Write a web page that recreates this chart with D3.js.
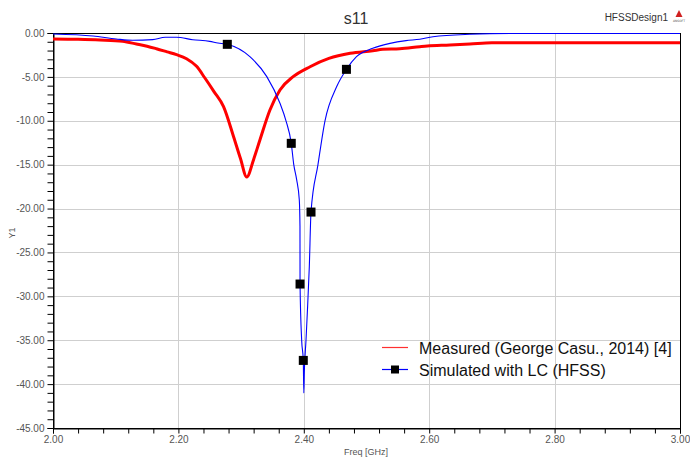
<!DOCTYPE html>
<html>
<head>
<meta charset="utf-8">
<script src="https://cdn.jsdelivr.net/npm/d3@7"></script>
<style>
  html, body { margin: 0; padding: 0; background: #fff; }
  svg { display: block; }
  .narrow { font-family: "Liberation Sans Narrow", "Liberation Sans", Arial, sans-serif; }
</style>
</head>
<body>
<svg id="chart" width="690" height="461"></svg>
<script>
// S11 return loss: measured vs. simulated (HFSS)
const measuredFreq = [2.000, 2.040, 2.075, 2.111, 2.133, 2.150, 2.165, 2.182, 2.197, 2.213, 2.229, 2.242, 2.257, 2.272, 2.288, 2.299, 2.309,
  2.320, 2.330, 2.346, 2.362, 2.383, 2.410, 2.440, 2.474, 2.510, 2.526, 2.553, 2.585, 2.597, 2.633, 2.665, 2.700, 3.000];
const measuredDb = [-0.68, -0.72, -0.80, -0.95, -1.25, -1.50, -1.79, -2.15, -2.47, -2.93, -3.80, -5.10, -6.70, -8.39, -11.81, -14.30, -16.40,
  -14.40, -12.19, -8.77, -6.49, -4.98, -3.84, -2.90, -2.31, -2.02, -1.86, -1.80, -1.56, -1.48, -1.37, -1.25, -1.10, -1.10];

const simFreq = [2.000, 2.064, 2.101, 2.127, 2.159, 2.179, 2.197, 2.223, 2.250, 2.263, 2.278, 2.314, 2.341, 2.362, 2.3716, 2.380, 2.384, 2.3886, 2.3928, 2.3939, 2.3940, 2.3966, 2.3992, 2.4000,
  2.4008, 2.4035, 2.4056, 2.4088, 2.4115, 2.4226, 2.4338, 2.4525, 2.468, 2.484, 2.510, 2.5375, 2.563, 2.585, 2.606, 2.665, 2.742, 3.000];
const simDb = [-0.11, -0.34, -0.68, -0.83, -0.76, -0.49, -0.49, -0.76, -0.95, -1.14, -1.29, -2.70, -4.97, -8.00, -10.00, -12.57, -15.00, -16.70, -19.00, -22.00, -28.60, -35.00, -37.30, -41.00,
  -38.70, -35.00, -31.90, -26.60, -20.40, -15.00, -10.00, -6.10, -4.14, -2.70, -1.75, -1.18, -0.87, -0.72, -0.42, -0.15, -0.04, -0.05];

// Marker symbols placed along the simulated trace
const markerFreq = [2.278, 2.380, 2.394, 2.3992, 2.4115, 2.468];
const markerDb = [-1.29, -12.57, -28.6, -37.3, -20.4, -4.14];

const xMajorTicks = [2.0, 2.2, 2.4, 2.6, 2.8, 3.0];
const yMajorTicks = [0, -5, -10, -15, -20, -25, -30, -35, -40, -45];
const seriesNames = ["Measured (George Casu., 2014) [4]", "Simulated with LC (HFSS)"];

const svg = d3.select("#chart");
const pLeft = 53, pRight = 680, pTop = 33, pBottom = 428;

const x = d3.scaleLinear().domain([2, 3]).range([pLeft, pRight]);
const y = d3.scaleLinear().domain([0, -45]).range([pTop, pBottom]);

// grid
const grid = svg.append("g").attr("stroke", "#cfcfcf").attr("stroke-width", 1);
xMajorTicks.slice(1, -1).forEach(v => {
  grid.append("line").attr("x1", Math.round(x(v)) + 0.5).attr("x2", Math.round(x(v)) + 0.5)
    .attr("y1", pTop).attr("y2", pBottom);
});
yMajorTicks.slice(1, -1).forEach(v => {
  grid.append("line").attr("x1", pLeft).attr("x2", pRight)
    .attr("y1", Math.round(y(v)) + 0.5).attr("y2", Math.round(y(v)) + 0.5);
});

// frame
svg.append("rect").attr("x", pLeft + 0.5).attr("y", pTop + 0.5)
  .attr("width", pRight - pLeft).attr("height", pBottom - pTop)
  .attr("fill", "none").attr("stroke", "#000").attr("stroke-width", 1);

// axes
const xAxis = d3.axisBottom(x).tickValues(d3.range(0, 26).map(i => 2 + i * 0.04))
  .tickSize(5).tickFormat(d => xMajorTicks.some(t => Math.abs(t - d) < 1e-6) ? d.toFixed(2) : "");
const gx = svg.append("g").attr("transform", `translate(0,${pBottom + 0.5})`).call(xAxis);
gx.select(".domain").attr("stroke", "#000");
gx.selectAll(".tick line").attr("stroke", "#000");
gx.selectAll(".tick text").attr("class", "narrow").attr("font-size", 10).attr("fill", "#555").attr("dy", "0.6em");

const yAxis = d3.axisLeft(y).tickValues(d3.range(0, 46).map(i => -i))
  .tickSize(6).tickFormat(d => d % 5 === 0 ? d.toFixed(2) : "");
const gy = svg.append("g").attr("transform", `translate(${pLeft + 0.5},0)`).call(yAxis);
gy.select(".domain").attr("stroke", "#000");
gy.selectAll(".tick line").attr("stroke", "#000");
gy.selectAll(".tick text").attr("class", "narrow").attr("font-size", 10).attr("fill", "#555").attr("x", -9);

// axis titles
svg.append("text").attr("class", "narrow").attr("x", 366).attr("y", 455)
  .attr("text-anchor", "middle").attr("font-size", 9).attr("fill", "#555").text("Freq [GHz]");
svg.append("text").attr("class", "narrow").attr("transform", "translate(15,233) rotate(-90)")
  .attr("text-anchor", "middle").attr("font-size", 9).attr("fill", "#555").text("Y1");

// title and design name
svg.append("text").attr("class", "narrow").attr("x", 356).attr("y", 24)
  .attr("text-anchor", "middle").attr("font-size", 16).attr("fill", "#333").text("s11");
svg.append("text").attr("class", "narrow").attr("x", 668).attr("y", 21)
  .attr("text-anchor", "end").attr("font-size", 10).attr("fill", "#333").text("HFSSDesign1");
// small logo mark
svg.append("path").attr("d", "M679,10 L682.5,17 L675.5,17 Z").attr("fill", "#d02020");
svg.append("text").attr("x", 679).attr("y", 22).attr("text-anchor", "middle")
  .attr("font-size", 3).attr("font-family", "DejaVu Sans").attr("fill", "#555").text("ANSOFT");

// traces
const line = d3.line().x(d => x(d[0])).y(d => y(d[1])).curve(d3.curveMonotoneX);
svg.append("clipPath").attr("id", "plotclip")
  .append("rect").attr("x", pLeft).attr("y", pTop).attr("width", pRight - pLeft).attr("height", pBottom - pTop);

const plot = svg.append("g").attr("clip-path", "url(#plotclip)");
plot.append("path").datum(d3.zip(measuredFreq, measuredDb)).attr("d", line)
  .attr("fill", "none").attr("stroke", "#ff0000").attr("stroke-width", 3).attr("stroke-linejoin", "round");
plot.append("path").datum(d3.zip(simFreq, simDb)).attr("d", line)
  .attr("fill", "none").attr("stroke", "#0000ff").attr("stroke-width", 1.1);

const ms = 9;
plot.selectAll("rect.marker").data(d3.zip(markerFreq, markerDb)).join("rect")
  .attr("class", "marker")
  .attr("x", d => x(d[0]) - ms / 2).attr("y", d => y(d[1]) - ms / 2)
  .attr("width", ms).attr("height", ms).attr("fill", "#000");

// legend
const lg = svg.append("g").attr("font-family", "Liberation Sans, Arial, sans-serif").attr("font-size", 16).attr("fill", "#111");
lg.append("line").attr("x1", 382).attr("x2", 408).attr("y1", 347.5).attr("y2", 347.5)
  .attr("stroke", "#ff3030").attr("stroke-width", 1.2);
lg.append("text").attr("x", 419).attr("y", 354).text(seriesNames[0]);
lg.append("line").attr("x1", 382).attr("x2", 408).attr("y1", 369.5).attr("y2", 369.5)
  .attr("stroke", "#0000ff").attr("stroke-width", 1.2);
lg.append("rect").attr("x", 391).attr("y", 365.5).attr("width", 8).attr("height", 8).attr("fill", "#000");
lg.append("text").attr("x", 419).attr("y", 376).text(seriesNames[1]);
</script>
</body>
</html>
